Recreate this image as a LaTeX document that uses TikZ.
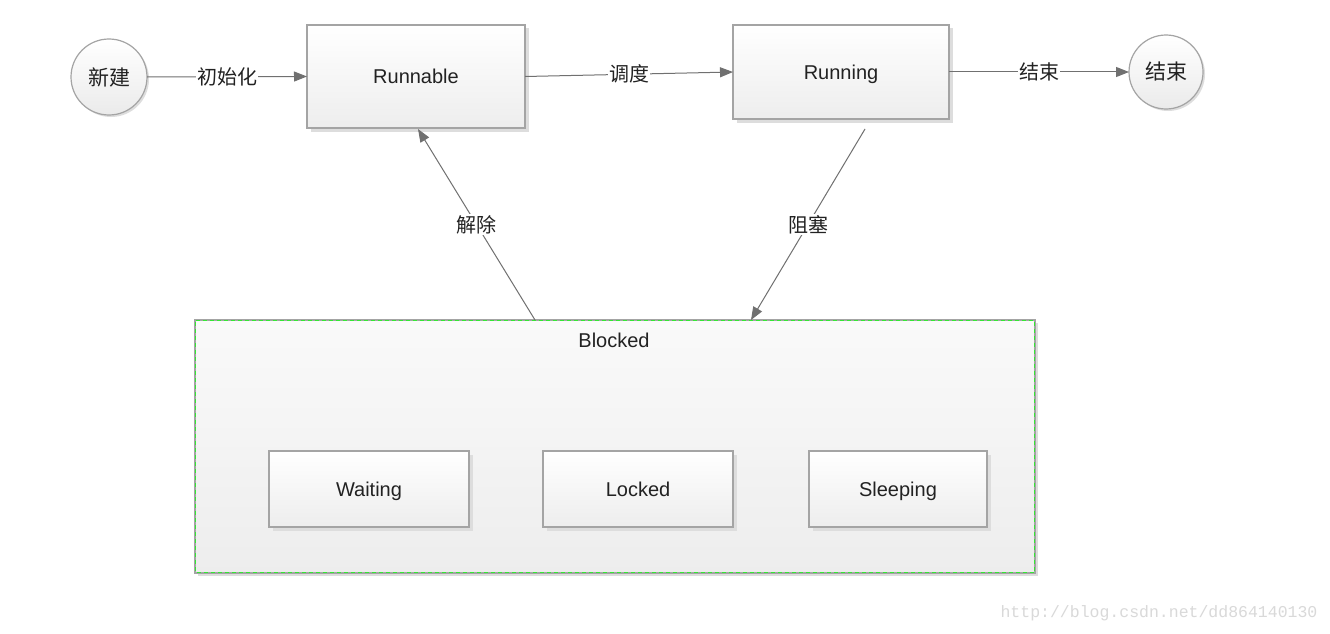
\documentclass[tikz,border=0pt]{standalone}
\usepackage{fontspec}
\setmainfont{Liberation Sans}
\setmonofont{Liberation Mono}
\newfontfamily\cjk{Noto Sans CJK SC}
\usetikzlibrary{arrows.meta,shadows,positioning,calc}
\definecolor{bordergray}{HTML}{A4A4A4}
\definecolor{linegray}{HTML}{707070}
\definecolor{txt}{HTML}{222222}
\definecolor{shad}{HTML}{DDDDDD}
\definecolor{wm}{HTML}{D9D9D9}
\definecolor{dashgreen}{HTML}{33E833}
\begin{document}
\begin{tikzpicture}[x=1pt,y=-1pt,
  every node/.style={text=txt},
  stbox/.style={draw=bordergray,line width=1.4pt,rectangle,inner sep=0pt,outer sep=0pt,
    top color=white,bottom color=black!7,
    drop shadow={shadow xshift=3.5pt,shadow yshift=-3.5pt,fill=shad,opacity=1},
    font=\fontsize{20}{22}\selectfont,text height=18pt,text depth=4pt},
  stcirc/.style={draw=bordergray,line width=1.2pt,circle,inner sep=0pt,outer sep=0pt,
    minimum size=76pt,top color=white,bottom color=black!8,
    drop shadow={shadow xshift=2pt,shadow yshift=-2pt,fill=shad,opacity=1},
    font=\cjk\fontsize{21}{23}\selectfont},
  conn/.style={draw=linegray,line width=1pt,-{Triangle[length=13pt,width=10pt]}},
  clabel/.style={fill=white,inner sep=1pt,font=\cjk\fontsize{20}{22}\selectfont}
]
\useasboundingbox (0,0) rectangle (1330,634);
\fill[white] (0,0) rectangle (1330,634);

% Blocked container
\node[draw=bordergray,line width=1.4pt,rectangle,inner sep=0pt,outer sep=0pt,
  minimum width=840pt,minimum height=253pt,
  top color=black!2,bottom color=black!7,
  drop shadow={shadow xshift=3pt,shadow yshift=-3pt,fill=shad,opacity=1}]
  (blocked) at (615,446.5) {};
\draw[dashgreen,line width=1pt,dash pattern=on 4pt off 3pt]
  ([shift={(0.5,0.5)}]blocked.north west) -- ([shift={(-0.5,0.5)}]blocked.north east)
  -- ([shift={(-0.5,-0.5)}]blocked.south east) -- ([shift={(0.5,-0.5)}]blocked.south west) -- cycle;
\node[font=\fontsize{20}{22}\selectfont] (blockedlabel) at (614,340) {Blocked};

% States
\node[stcirc] (new) at (109,77) {新建};
\node[stbox,minimum width=218pt,minimum height=103pt] (runnable) at (416,76.5) {Runnable};
\node[stbox,minimum width=216pt,minimum height=94pt] (running) at (841,72) {Running};
\node[stcirc,minimum size=74pt] (end) at (1166,72) {结束};

\node[stbox,minimum width=200pt,minimum height=76pt] (waiting) at (369,489) {Waiting};
\node[stbox,minimum width=190pt,minimum height=76pt] (locked) at (638,489) {Locked};
\node[stbox,minimum width=178pt,minimum height=76pt] (sleeping) at (898,489) {Sleeping};

% Connectors
\draw[conn] (new.east) -- node[clabel] (l1) {初始化} (runnable.west);
\draw[conn] (runnable.east) -- node[clabel] (l2) {调度} (running.west);
\draw[conn] (running.east) -- node[clabel] (l3) {结束} (end.west);
\draw[conn] ([xshift=24pt,yshift=-10pt]running.south) -- node[clabel] (l4) {阻塞} ([xshift=136pt]blocked.north);
\draw[conn] ([xshift=-80pt]blocked.north) -- node[clabel] (l5) {解除} ([xshift=2pt,yshift=-1pt]runnable.south);

% Watermark
\node[text=wm,font=\ttfamily\fontsize{16.5}{18}\selectfont] (watermark) at (1159,613) {http://blog.csdn.net/dd864140130};
\end{tikzpicture}
\end{document}
